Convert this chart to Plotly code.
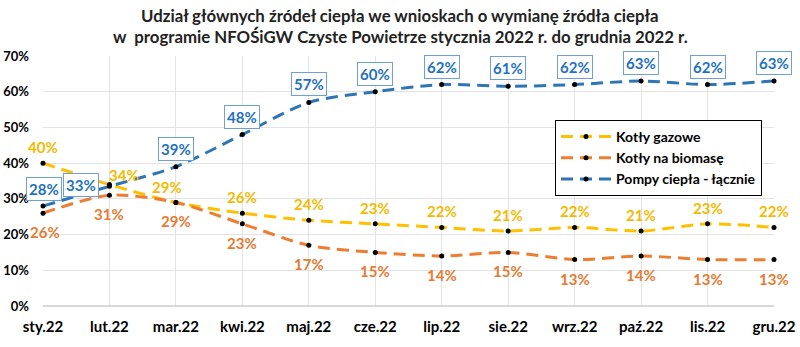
import plotly.graph_objects as go

months = ["sty.22", "lut.22", "mar.22", "kwi.22", "maj.22", "cze.22",
          "lip.22", "sie.22", "wrz.22", "paź.22", "lis.22", "gru.22"]
gazowe = [40, 34, 29, 26, 24, 23, 22, 21, 22, 21, 23, 22]
biomasa = [26, 31, 29, 23, 17, 15, 14, 15, 13, 14, 13, 13]
pompy = [28, 33.5, 39, 48, 57, 60, 62, 61.5, 62, 63, 62, 63]
pompy_lbl = [28, 33, 39, 48, 57, 60, 62, 61, 62, 63, 62, 63]
yticks = [0, 10, 20, 30, 40, 50, 60, 70]
title_lines = ["Udział głównych źródeł ciepła we wnioskach o wymianę źródła ciepła",
               "w  programie NFOŚiGW Czyste Powietrze stycznia 2022 r. do grudnia 2022 r."]

series_names = ["Kotły gazowe", "Kotły na biomasę", "Pompy ciepła - łącznie"]
line_colors = ["#FFC000", "#ED7D31", "#2E75B6"]
text_colors = ["#F2BA00", "#E57B34", "#1F72BE"]

FONT = "Lato"
fig = go.Figure()
for name, vals, col in zip(series_names, [gazowe, biomasa, pompy], line_colors):
    fig.add_trace(go.Scatter(
        x=months, y=vals, name=name, mode="lines+markers",
        line=dict(color=col, width=3, dash="12px,7px", shape="spline", smoothing=0.8),
        marker=dict(color="black", size=5),
        cliponaxis=False,
    ))

# label offsets (px): style only
gaz_off = [(0, 16), (15, 10), (-9, 15)] + [(0, 16)] * 9
bio_off = [(2, -19)] + [(0, -19)] * 11
pom_off = [(1, 17), (-28, 1)] + [(0, 18)] * 10

ann = []
for vals, lbls, offs, col, boxed in [
        (gazowe, gazowe, gaz_off, text_colors[0], False),
        (biomasa, biomasa, bio_off, text_colors[1], False),
        (pompy, pompy_lbl, pom_off, text_colors[2], True)]:
    for i, (v, l) in enumerate(zip(vals, lbls)):
        a = dict(x=months[i], y=v, xref="x", yref="y", text=f"{l}%",
                 showarrow=False, xshift=offs[i][0], yshift=offs[i][1],
                 font=dict(family=FONT, size=15, color=col, weight="bold"))
        if boxed:
            a.update(bgcolor="white", bordercolor="#6F9FD8", borderwidth=1, borderpad=2)
        ann.append(a)

# title lines
for line, ypx in zip(title_lines, [15, 37]):
    ann.append(dict(text=line, xref="paper", yref="paper",
                    x=(400 - 43) / 731, y=(306 - ypx) / 250,
                    xanchor="center", yanchor="middle", showarrow=False,
                    font=dict(family=FONT, size=16.8, color="#222222", weight="bold")))

fig.update_layout(
    width=800, height=347,
    margin=dict(l=43, r=26, t=56, b=41),
    paper_bgcolor="white", plot_bgcolor="white",
    xaxis=dict(type="category", range=[0, 11], showgrid=True, gridcolor="#E3E3E3",
               gridwidth=1, zeroline=False, showline=False, ticks="", automargin=False,
               tickfont=dict(family=FONT, size=15, color="black", weight="bold"),
               ticklabelstandoff=10),
    yaxis=dict(range=[0, 70], tickvals=yticks, ticktext=[f"{t}%" for t in yticks],
               showgrid=True, gridcolor="#E3E3E3", gridwidth=1, zeroline=True,
               zerolinecolor="#D9D9D9", showline=False, ticks="", automargin=False,
               tickfont=dict(family=FONT, size=13, color="black", weight="bold"),
               ticklabelstandoff=13),
    legend=dict(x=(555 - 43) / 731, y=(306 - 120) / 250, xanchor="left", yanchor="top",
                bgcolor="white", bordercolor="black", borderwidth=1,
                font=dict(family=FONT, size=14, color="black", weight="bold"),
                itemwidth=50, tracegroupgap=0),
    annotations=ann,
    showlegend=True,
)
fig.write_html("out.html")
